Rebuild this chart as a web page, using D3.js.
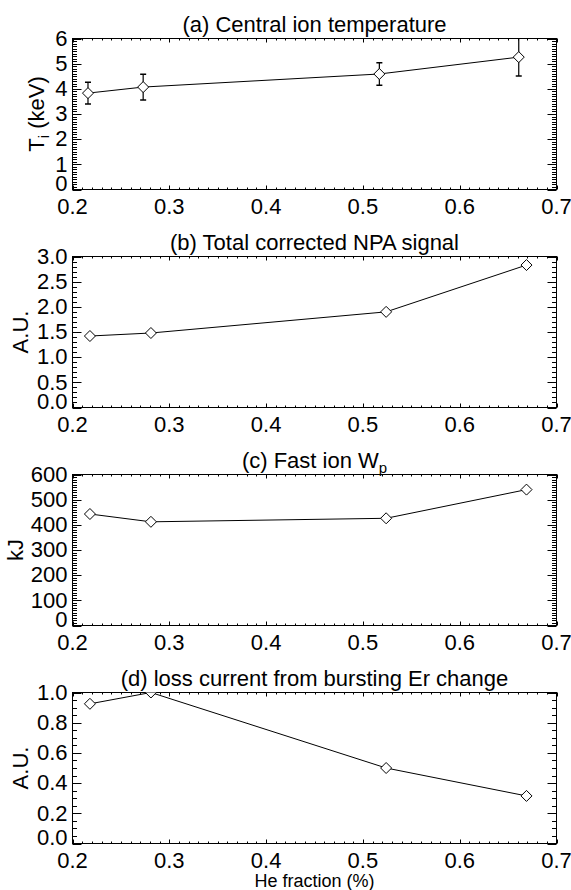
<!DOCTYPE html>
<html>
<head>
<meta charset="utf-8">
<script src="https://cdn.jsdelivr.net/npm/d3@7"></script>
<style>
  body { margin: 0; background: #fff; }
  text { font-family: "Liberation Sans", Arial, sans-serif; fill: #000; }
</style>
</head>
<body>
<div id="chart"></div>
<script>
// He fraction (x) for each panel
var heA = [0.216, 0.273, 0.517, 0.661];
var heB = [0.218, 0.281, 0.524, 0.669];

// series values
var tiVals = [3.83, 4.07, 4.59, 5.26];
var tiErr = [0.43, 0.51, 0.45, 0.75];
var npaVals = [1.42, 1.48, 1.90, 2.83];
var wpVals = [443, 412, 426, 540];
var lossVals = [0.925, 1.0, 0.50, 0.315];

// tick labels
var xTicks = [0.2, 0.3, 0.4, 0.5, 0.6, 0.7];
var tiTicks = [0, 1, 2, 3, 4, 5, 6];
var npaTicks = [0, 0.5, 1.0, 1.5, 2.0, 2.5, 3.0];
var wpTicks = [0, 100, 200, 300, 400, 500, 600];
var lossTicks = [0, 0.2, 0.4, 0.6, 0.8, 1.0];

var panels = [
  {title: ["(a) Central ion temperature"], ylab: ["T", "i", " (keV)"], x: heA, y: tiVals, err: tiErr,
   ticks: tiTicks, fmt: d3.format("d"), minor: 10, ylabX: 44},
  {title: ["(b) Total corrected NPA signal"], ylab: ["A.U."], x: heB, y: npaVals,
   ticks: npaTicks, fmt: d3.format(".1f"), minor: 5, ylabX: 28},
  {title: ["(c) Fast ion W", "p"], ylab: ["kJ"], x: heB, y: wpVals,
   ticks: wpTicks, fmt: d3.format("d"), minor: 10, ylabX: 23},
  {title: ["(d) loss current from bursting Er change"], ylab: ["A.U."], x: heB, y: lossVals,
   ticks: lossTicks, fmt: d3.format(".1f"), minor: 4, ylabX: 28}
];

var width = 571, height = 890;
var left = 72.5, right = 556.5;
var tops = [38.5, 256.5, 474.5, 692.5];
var ph = 151;
var fs = 22;

var svg = d3.select("#chart").append("svg")
  .attr("width", width)
  .attr("height", height);

var x = d3.scaleLinear().domain([0.2, 0.7]).range([left, right]);
var xMinor = d3.range(0.2, 0.7001, 0.01);

function drawPanel(p, i) {
  var top = tops[i], bottom = top + ph;
  var lo = p.ticks[0], hi = p.ticks[p.ticks.length - 1];
  var y = d3.scaleLinear().domain([lo, hi]).range([bottom, top]);
  var step = (p.ticks[1] - p.ticks[0]) / p.minor;
  var yMinor = d3.range(0, Math.round((hi - lo) / step) + 1).map(function(k) { return lo + k * step; });

  var g = svg.append("g");

  var clipId = "clip" + i;
  g.append("clipPath").attr("id", clipId)
    .append("rect").attr("x", left).attr("y", top).attr("width", right - left).attr("height", ph);

  // frame
  g.append("rect")
    .attr("x", left).attr("y", top)
    .attr("width", right - left).attr("height", ph)
    .attr("fill", "none").attr("stroke", "#000").attr("stroke-width", 1);

  // x ticks, top and bottom
  var xl = 4, xs = 2;
  xMinor.forEach(function(v, k) {
    var len = (k % 10 === 0) ? xl : xs;
    var px = Math.round(x(v)) + 0.5;
    g.append("line").attr("x1", px).attr("x2", px).attr("y1", bottom).attr("y2", bottom - len).attr("stroke", "#000");
    g.append("line").attr("x1", px).attr("x2", px).attr("y1", top).attr("y2", top + len).attr("stroke", "#000");
  });
  // y ticks, left and right
  var yl = 9, ys = 4.5;
  yMinor.forEach(function(v, k) {
    var len = (k % p.minor === 0) ? yl : ys;
    var py = Math.round(y(v)) + 0.5;
    g.append("line").attr("x1", left).attr("x2", left + len).attr("y1", py).attr("y2", py).attr("stroke", "#000");
    g.append("line").attr("x1", right).attr("x2", right - len).attr("y1", py).attr("y2", py).attr("stroke", "#000");
  });

  // tick labels
  g.selectAll(".xl").data(xTicks).enter().append("text")
    .attr("x", function(d) { return x(d); })
    .attr("y", bottom + 24)
    .attr("text-anchor", "middle")
    .style("font-size", fs + "px")
    .text(d3.format(".1f"));
  // the lowest label sits a little above the x axis, as in the original
  g.selectAll(".yl").data(p.ticks).enter().append("text")
    .attr("x", left - 5)
    .attr("y", function(d, k) { return y(d) - (k === 0 ? 6 : 0); })
    .attr("dy", "0.33em")
    .attr("text-anchor", "end")
    .style("font-size", fs + "px")
    .text(p.fmt);

  // title
  var t = g.append("text")
    .attr("x", (left + right) / 2).attr("y", top - 7)
    .attr("text-anchor", "middle")
    .style("font-size", "22px");
  t.append("tspan").text(p.title[0]);
  if (p.title.length > 1)
    t.append("tspan").attr("dy", 5).style("font-size", "15px").text(p.title[1]);

  // y label
  var yt = g.append("text")
    .attr("transform", "translate(" + p.ylabX + "," + (top + ph / 2) + ") rotate(-90)")
    .attr("text-anchor", "middle")
    .style("font-size", "22px");
  yt.append("tspan").text(p.ylab[0]);
  if (p.ylab.length > 1) {
    yt.append("tspan").attr("dy", 5).style("font-size", "15px").text(p.ylab[1]);
    yt.append("tspan").attr("dy", -5).text(p.ylab[2]);
  }

  var pts = p.x.map(function(d, k) { return [d, p.y[k]]; });
  var plot = g.append("g").attr("clip-path", "url(#" + clipId + ")");

  plot.append("path")
    .attr("d", d3.line().x(function(d) { return x(d[0]); }).y(function(d) { return y(d[1]); })(pts))
    .attr("fill", "none").attr("stroke", "#000").attr("stroke-width", 1);

  if (p.err) {
    pts.forEach(function(d, k) {
      var cx = x(d[0]), y1 = y(d[1] - p.err[k]), y2 = y(d[1] + p.err[k]);
      plot.append("line").attr("x1", cx).attr("x2", cx).attr("y1", y1).attr("y2", y2).attr("stroke", "#000").attr("stroke-width", 1.2);
      plot.append("line").attr("x1", cx - 3).attr("x2", cx + 3).attr("y1", y1).attr("y2", y1).attr("stroke", "#000").attr("stroke-width", 1.5);
      plot.append("line").attr("x1", cx - 3).attr("x2", cx + 3).attr("y1", y2).attr("y2", y2).attr("stroke", "#000").attr("stroke-width", 1.5);
    });
  }

  plot.selectAll(".pt").data(pts).enter().append("path")
    .attr("d", "M0,-5.5L5.5,0L0,5.5L-5.5,0Z")
    .attr("transform", function(d) { return "translate(" + x(d[0]) + "," + y(d[1]) + ")"; })
    .attr("fill", "#fff").attr("stroke", "#000").attr("stroke-width", 1);
}

panels.forEach(drawPanel);

svg.append("text")
  .attr("x", (left + right) / 2).attr("y", 886.5)
  .attr("text-anchor", "middle")
  .style("font-size", "18px")
  .text("He fraction (%)");
</script>
</body>
</html>
